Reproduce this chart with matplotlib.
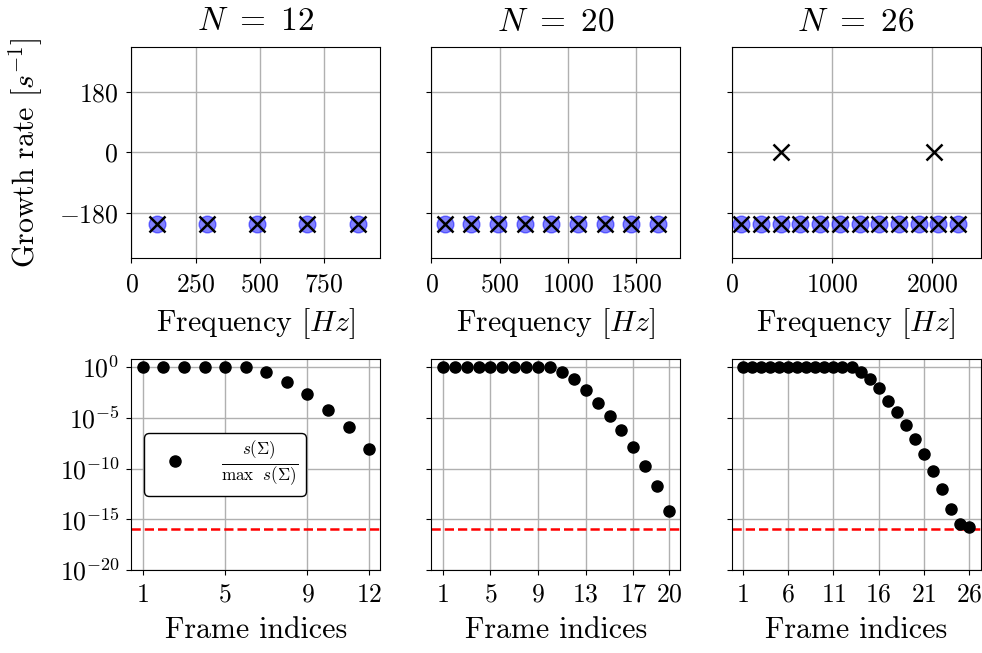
import numpy as np
import matplotlib
matplotlib.use("Agg")
import matplotlib.pyplot as plt

plt.rcParams['font.family'] = 'serif'
plt.rcParams['font.serif'] = ['cmr10', 'DejaVu Serif']
plt.rcParams['mathtext.fontset'] = 'cm'
plt.rcParams['axes.formatter.use_mathtext'] = True
plt.rcParams['axes.unicode_minus'] = True

# ---- data ----
Ns = [12, 20, 26]

freq_12 = [99, 293, 489, 683, 881]
grow_12 = [-213, -213, -213, -213, -213]
freq_20 = [97, 293, 487, 683, 878, 1073, 1268, 1463, 1658]
grow_20 = [-213] * 9
freq_26 = [98, 294, 490, 686, 882, 1078, 1274, 1470, 1666, 1862, 2058, 2254]
grow_26 = [-213] * 12
# unstable/extra eigenvalues shown only as black crosses (N=26)
extra_freq_26 = [489, 2017]
extra_grow_26 = [0, 0]

sv_12 = [0, 0, 0, 0, 0, 0, -0.5, -1.45, -2.6, -4.2, -5.9, -8.1]
sv_20 = [0, 0, 0, 0, 0, 0, 0, 0, 0, 0, -0.45, -1.2, -2.3, -3.5, -4.8, -6.2,
         -7.9, -9.7, -11.7, -14.2]
sv_26 = [0, 0, 0, 0, 0, 0, 0, 0, 0, 0, 0, 0, 0, -0.45, -1.2, -2.1, -3.3,
         -4.4, -5.7, -7.1, -8.6, -10.2, -12.0, -14.0, -15.5, -15.8]
threshold = 1e-16

xticks_top = [[0, 250, 500, 750], [0, 500, 1000, 1500], [0, 1000, 2000]]
xticks_bot = [[1, 5, 9, 12], [1, 5, 9, 13, 17, 20], [1, 6, 11, 16, 21, 26]]

freqs = [freq_12, freq_20, freq_26]
grows = [grow_12, grow_20, grow_26]
extras_f = [[], [], extra_freq_26]
extras_g = [[], [], extra_grow_26]
svs = [sv_12, sv_20, sv_26]

TITLE_FS = 24
LABEL_FS = 21.5
TICK_FS = 18.5

fig = plt.figure(figsize=(9.82, 6.53), dpi=100)
lefts = [0.1339, 0.4394, 0.7450]
w = 0.2535
top_axes = [fig.add_axes([l, 0.6049, w, 0.3236]) for l in lefts]
bot_axes = [fig.add_axes([l, 0.1271, w, 0.3231]) for l in lefts]

for i, N in enumerate(Ns):
    ax = top_axes[i]
    f = np.array(freqs[i]); g = np.array(grows[i])
    ax.plot(f, g, 'o', color='blue', alpha=0.5, markersize=12, zorder=3)
    allf = list(f) + extras_f[i]
    allg = list(g) + extras_g[i]
    ax.plot(allf, allg, 'x', color='black', markersize=12, mew=1.8, zorder=4)
    ax.set_xlim(0, max(allf) * 1.1)
    ax.set_ylim(-100 * np.pi, 100 * np.pi)
    ax.set_yticks([-180, 0, 180])
    ax.set_xticks(xticks_top[i])
    ax.grid(True, color='#b0b0b0', lw=1)
    ax.set_axisbelow(True)
    ax.set_title(r'$N\ =\ %d$' % N, fontsize=TITLE_FS, pad=12)
    ax.set_xlabel(r'Frequency $[Hz]$', fontsize=LABEL_FS, labelpad=7)
    ax.tick_params(labelsize=TICK_FS)
    ax.tick_params(axis='x', pad=7)
    ax.tick_params(axis='y', pad=6)
    if i > 0:
        ax.set_yticklabels([])
    else:
        ax.set_ylabel(r'Growth rate $[s^{-1}]$', fontsize=LABEL_FS, labelpad=10)

    axb = bot_axes[i]
    idx = np.arange(1, N + 1)
    vals = 10.0 ** np.array(svs[i])
    axb.semilogy(idx, vals, 'o', color='black', markersize=8, zorder=3,
                 label=r'$\frac{s(\Sigma)}{\max\ \ s(\Sigma)}$')
    axb.axhline(threshold, color='red', ls='--', lw=1.8, zorder=2)
    axb.set_ylim(1e-20, 10 ** 0.8)
    axb.set_yticks([1e0, 1e-5, 1e-10, 1e-15, 1e-20])
    axb.minorticks_off()
    axb.set_xticks(xticks_bot[i])
    axb.grid(True, color='#b0b0b0', lw=1)
    axb.set_axisbelow(True)
    axb.set_xlabel('Frame indices', fontsize=LABEL_FS, labelpad=7)
    axb.tick_params(labelsize=TICK_FS)
    axb.tick_params(axis='x', pad=6)
    axb.tick_params(axis='y', pad=5)
    if i > 0:
        axb.set_yticklabels([])
    else:
        leg = axb.legend(loc='center left', fontsize=17.5, framealpha=1,
                         edgecolor='black', fancybox=True, borderpad=0.3,
                         handletextpad=0.9, borderaxespad=0.5)
        leg.get_frame().set_linewidth(1.0)

fig.savefig('out.png', dpi=100)
